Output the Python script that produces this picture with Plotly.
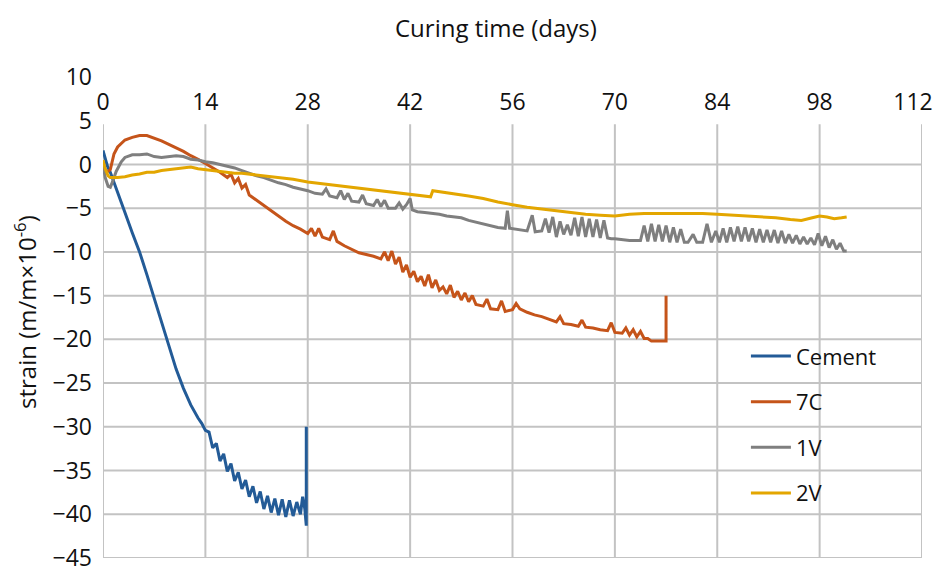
import plotly.graph_objects as go

# ---------------- data ----------------
cement_days = [0, 0.3, 0.6, 1, 1.5, 2, 3, 4, 5, 6, 7, 8, 9, 10, 11, 12, 13, 13.5, 14,
               14.5, 15, 15.5, 16, 16.5, 17, 17.5, 18, 18.5, 19, 19.5, 20, 20.5, 21, 21.5,
               22, 22.5, 23, 23.5, 24, 24.5, 25, 25.5, 26, 26.5, 27, 27.3, 27.6, 27.8, 27.8]
cement_vals = [1.6, 0.8, -0.2, -0.9, -2.0, -3.2, -5.5, -7.8, -10.0, -12.6, -15.3, -18.0, -20.8, -23.4,
               -25.6, -27.5, -29.0, -29.6, -30.4,
               -30.6, -32.4, -31.9, -33.9, -33.1, -35.1, -34.2, -36.2, -35.2, -37.1, -36.1, -38.0,
               -36.8, -38.7, -37.4, -39.4, -37.9, -39.8, -38.2, -40.1, -38.3, -40.3, -38.4, -40.2,
               -38.6, -40.0, -38.0, -39.4, -41.3, -30.0]

c7_days = [0, 0.5, 1, 1.5, 2, 3, 4, 5, 6, 7, 8, 9, 10, 11, 12, 13, 14, 15, 16, 17, 17.5, 18,
           18.5, 19, 19.5, 20, 21, 22, 23, 24, 25, 26, 27, 28, 28.5, 29, 29.5, 30, 31, 31.5, 32,
           33, 34, 35, 36, 37, 38, 38.5, 39, 39.5, 40, 40.5, 41, 41.5, 42, 42.5, 43, 43.5, 44,
           44.5, 45, 45.5, 46, 46.5, 47, 47.5, 48, 48.5, 49, 49.5, 50, 50.5, 51, 52, 52.5, 53,
           54, 54.5, 55, 56, 56.5, 57, 58, 59, 60, 61, 62, 62.5, 63, 64, 65, 65.5, 66, 67, 68,
           69, 69.5, 70, 71, 71.5, 72, 72.5, 73, 73.5, 74, 74.5, 75, 76, 77, 77]
c7_vals = [0.0, -0.9, -0.6, 1.2, 2.0, 2.8, 3.1, 3.3, 3.3, 3.0, 2.7, 2.3, 1.9, 1.5, 1.0, 0.6, 0.1,
           -0.4, -0.9, -1.5, -1.1, -2.1, -1.6, -2.7, -2.3, -3.5, -4.1, -4.8, -5.4, -6.0, -6.5,
           -7.0, -7.4, -7.9, -7.3, -8.2, -7.3, -8.3, -8.6, -7.6, -8.8, -9.3, -9.7, -10.1, -10.3,
           -10.5, -10.8, -10.0, -11.0, -9.9, -11.4, -10.6, -12.3, -11.5, -12.9, -12.2, -13.4,
           -12.8, -13.9, -12.6, -14.1, -13.2, -14.4, -14.0, -14.8, -13.8, -15.2, -14.5, -15.5,
           -14.7, -15.7, -15.0, -16.0, -16.2, -15.4, -16.5, -16.6, -15.6, -16.8, -16.6, -15.9,
           -16.5, -16.9, -17.2, -17.4, -17.7, -18.0, -17.4, -18.2, -18.3, -18.5, -17.8, -18.6,
           -18.7, -18.9, -19.0, -18.1, -19.2, -19.3, -18.7, -19.5, -18.9, -19.7, -19.1, -19.9,
           -19.9, -20.2, -20.2, -20.2, -15.0]

v1_days = [0, 0.3, 0.7, 1.0, 1.3, 1.8, 2.5, 3, 4, 5, 6, 7, 8, 9, 10, 11, 12, 13, 14, 15, 16,
           17, 18, 19, 20, 21, 22, 23, 24, 25, 26, 27, 28, 29, 30, 30.5, 31, 32, 32.5, 33, 33.5,
           34, 35, 35.5, 36, 37, 37.5, 38, 38.5, 39, 40, 40.5, 41, 41.5, 42, 42.3, 43, 44, 45,
           46, 47, 48, 49, 50, 51, 52, 53, 54, 55, 55.3, 55.6, 56.5, 57, 58, 58.7, 59.1, 60,
           60.5, 61, 61.5, 62, 62.5, 63, 63.5, 64, 64.5, 65, 65.5, 66, 66.5, 67, 67.5, 68, 68.5,
           69, 69.5, 70, 71, 72, 73, 73.5, 74, 74.5, 75, 75.5, 76, 76.5, 77, 77.5, 78, 78.5, 79,
           79.5, 80, 80.7, 81.2, 82, 82.6, 83.2, 83.8, 84.3, 84.8, 85.3, 85.8, 86.3, 86.8, 87.3,
           87.8, 88.3, 88.8, 89.3, 89.8, 90.3, 90.8, 91.3, 91.8, 92.3, 92.8, 93.3, 93.8, 94.3,
           94.8, 95.3, 95.8, 96.3, 96.8, 97.3, 97.8, 98.3, 98.8, 99.3, 99.8, 100.3, 100.8, 101.3,
           101.7]
v1_vals = [0.0, -1.5, -2.5, -2.6, -2.0, -0.8, 0.3, 0.8, 1.1, 1.1, 1.2, 0.9, 0.8, 0.9, 1.0, 0.9,
           0.6, 0.5, 0.3, 0.2, 0.0, -0.2, -0.4, -0.7, -1.0, -1.3, -1.5, -1.8, -2.1, -2.3, -2.6,
           -2.8, -3.0, -3.3, -3.4, -2.8, -3.6, -3.8, -3.0, -4.0, -3.3, -4.2, -4.3, -3.5, -4.5,
           -4.7, -4.0, -4.8, -4.1, -5.0, -5.0, -4.4, -5.1, -4.6, -3.9, -5.2, -5.4, -5.5, -5.6,
           -5.7, -5.9, -6.0, -6.1, -6.4, -6.6, -6.8, -7.0, -7.2, -7.3, -5.3, -7.3, -7.4, -7.5,
           -7.6, -5.8, -7.7, -7.6, -6.2, -7.8, -6.0, -8.3, -6.5, -8.0, -6.9, -8.1, -6.1, -8.2,
           -6.0, -8.3, -6.2, -8.3, -6.3, -8.4, -6.4, -8.4, -8.5, -8.5, -8.6, -8.7, -8.7, -8.7,
           -7.0, -8.8, -6.8, -8.8, -6.9, -8.8, -7.0, -8.9, -7.2, -8.9, -7.4, -8.9, -8.9, -8.0,
           -8.9, -8.9, -6.8, -8.9, -7.6, -8.9, -7.3, -8.9, -7.2, -8.8, -7.1, -8.8, -7.2, -8.8,
           -7.3, -8.9, -7.4, -8.9, -7.5, -8.9, -7.5, -9.0, -7.6, -9.0, -8.0, -9.0, -8.1, -9.1,
           -8.3, -9.1, -8.4, -9.2, -7.9, -9.3, -8.2, -9.5, -8.6, -9.7, -9.0, -9.9, -9.9]

v2_days = [0, 0.3, 0.7, 1, 2, 3, 4, 5, 6, 7, 8, 9, 10, 11, 12, 13, 14, 15, 16, 17, 18, 19, 20,
           22, 24, 26, 28, 30, 32, 34, 36, 38, 40, 42, 44, 44.8, 45.1, 46, 48, 50, 52, 54, 56,
           58, 60, 62, 64, 66, 68, 70, 72, 74, 76, 78, 80, 82, 84, 86, 88, 90, 92, 94, 95.5, 97,
           98, 99, 100, 101, 101.7]
v2_vals = [0.5, -0.5, -1.3, -1.5, -1.5, -1.4, -1.2, -1.1, -0.9, -0.9, -0.7, -0.6, -0.5, -0.4,
           -0.3, -0.5, -0.6, -0.7, -0.8, -0.9, -1.0, -1.0, -1.1, -1.3, -1.5, -1.7, -2.0, -2.2,
           -2.4, -2.6, -2.8, -3.0, -3.2, -3.4, -3.6, -3.7, -3.0, -3.1, -3.3, -3.6, -3.9, -4.3,
           -4.6, -4.9, -5.1, -5.3, -5.5, -5.7, -5.8, -5.9, -5.7, -5.6, -5.6, -5.6, -5.6, -5.6,
           -5.7, -5.8, -5.9, -6.0, -6.1, -6.3, -6.4, -6.1, -5.9, -6.0, -6.2, -6.1, -6.0]

series_names = ["Cement", "7C", "1V", "2V"]
series_colors = ["#235B97", "#C5541A", "#7F7F7F", "#E3A600"]

x_ticks = [0, 14, 28, 42, 56, 70, 84, 98, 112]
# last label padded with non-breaking spaces so it stays inside the page, as in the original
x_ticktext = ["0", "14", "28", "42", "56", "70", "84", "98", "112\u00a0\u00a0\u00a0"]
y_ticks = [-45, -40, -35, -30, -25, -20, -15, -10, -5, 0, 5, 10]
x_title = "Curing time (days)"
y_title = "strain (m/m×10<sup>-6</sup>)"

FONT = "Open Sans"
GRID = "#C3C3C3"

fig = go.Figure()
all_days = [cement_days, c7_days, v1_days, v2_days]
all_vals = [cement_vals, c7_vals, v1_vals, v2_vals]
for name, col, dx, vy in zip(series_names, series_colors, all_days, all_vals):
    fig.add_trace(go.Scatter(x=dx, y=vy, mode="lines", name=name, legendgroup=name,
                             line=dict(color=col, width=3)))

# gridlines (vertical lines stop at y=5, horizontal ones at y=0)
shapes = []
for xv in x_ticks:
    shapes.append(dict(type="line", xref="x", yref="y", x0=xv, x1=xv, y0=-45, y1=4.6,
                       line=dict(color=GRID, width=2), layer="below"))
for yv in y_ticks:
    if yv <= 0:
        shapes.append(dict(type="line", xref="x", yref="y", x0=0, x1=112, y0=yv, y1=yv,
                           line=dict(color=GRID, width=2), layer="below"))

fig.update_layout(
    width=938, height=567,
    margin=dict(l=103, r=16, t=77, b=9, autoexpand=False),
    paper_bgcolor="white", plot_bgcolor="white",
    font=dict(family=FONT, size=23, color="#000000"),
    shapes=shapes,
    xaxis=dict(range=[0, 112], tickvals=x_ticks, ticktext=x_ticktext, side="top",
               anchor="free", position=50 / 55,
               showgrid=False, zeroline=False, showline=False, ticks="", automargin=False,
               ticklabelstandoff=6, ticklabeloverflow="allow",
               tickfont=dict(size=23, color="#111111")),
    yaxis=dict(range=[-45, 10], tickvals=y_ticks, showgrid=False, zeroline=False,
               showline=False, ticks="", ticklabelstandoff=10, ticklabeloverflow="allow",
               automargin=False, tickfont=dict(size=23, color="#111111")),
    legend=dict(x=0.785, y=0.463, xanchor="left", yanchor="top", bgcolor="rgba(0,0,0,0)",
                font=dict(size=22, color="#111111"), tracegroupgap=14, itemwidth=40),
    showlegend=True,
    annotations=[
        dict(text=x_title, xref="paper", yref="paper", x=0.48, y=(558 - 27) / 481,
             xanchor="center", yanchor="middle", showarrow=False,
             font=dict(size=24, color="#111111")),
        dict(text=y_title, xref="paper", yref="paper", x=(25 - 103) / 819, y=(558 - 312) / 481,
             xanchor="center", yanchor="middle", textangle=-90, showarrow=False,
             font=dict(size=24, color="#111111")),
    ],
)

fig.write_html("out.html")
